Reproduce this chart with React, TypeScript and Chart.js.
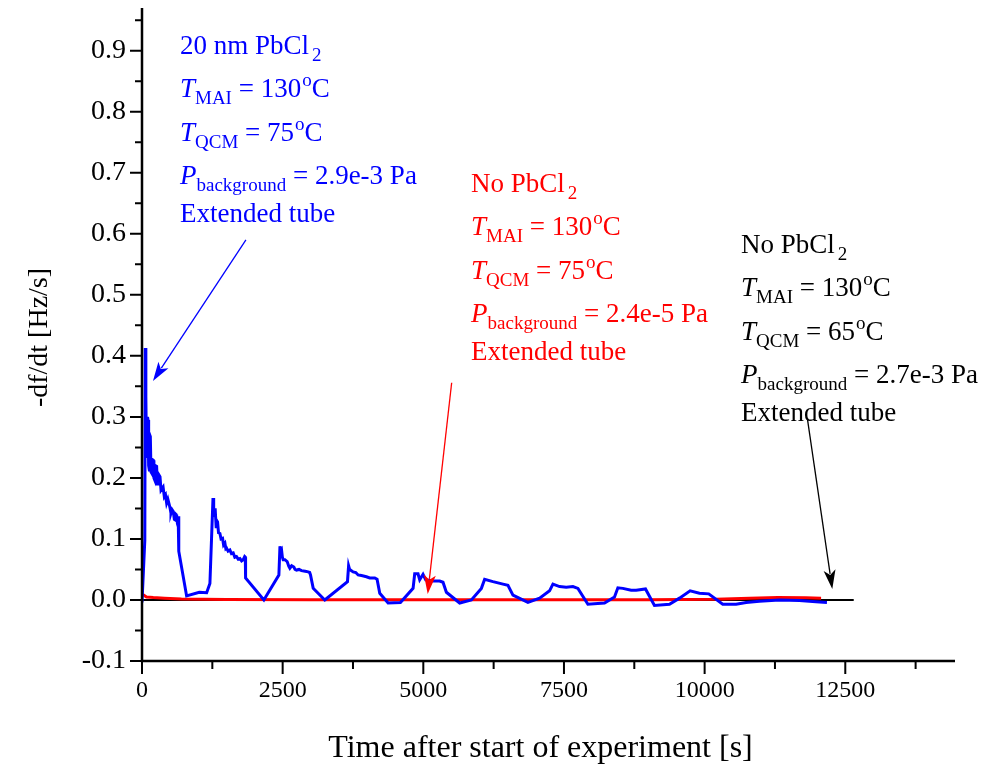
import React, { useEffect, useRef } from 'react';
import { Chart, registerables } from 'chart.js';

Chart.register(...registerables);

// ---------- data ----------
const BLUE_T = [
  0, 50, 58, 66, 71, 80, 89, 98, 107, 118, 130, 140, 148, 160, 172, 186, 201, 212, 225, 242,
  260, 272, 284, 300, 320, 338, 355, 375, 397, 418, 438, 460, 485, 500, 515, 535, 556, 575, 592, 605,
  616, 630, 646, 651, 656, 793, 1018, 1149, 1207, 1262, 1274, 1290, 1300, 1308, 1318, 1330, 1343, 1360, 1385, 1405,
  1432, 1450, 1474, 1490, 1503, 1530, 1562, 1590, 1621, 1650, 1680, 1710, 1740, 1770, 1799, 1825, 1836, 1841, 2166, 2433,
  2452, 2466, 2480, 2495, 2509, 2540, 2580, 2610, 2628, 2660, 2699, 2720, 2746, 2790, 2835, 2900, 2953, 2980, 2995, 3043,
  3249, 3652, 3672, 3690, 3705, 3752, 3800, 3841, 3900, 3989, 4048, 4107, 4137, 4178, 4226, 4374, 4593, 4818, 4847, 4906,
  4936, 4995, 5043, 5173, 5291, 5350, 5410, 5646, 5854, 6032, 6090, 6238, 6416, 6504, 6593, 6859, 7067, 7244, 7304, 7422,
  7540, 7659, 7748, 7925, 8221, 8398, 8458, 8546, 8694, 8783, 8949, 9108, 9375, 9553, 9742, 9908, 10073, 10322, 10559, 10737,
  10973, 11328, 11683, 11979, 12174,
];
const BLUE_V = [
  -0.004, 0.098, 0.413, 0.3, 0.333, 0.24, 0.235, 0.3, 0.295, 0.22, 0.213, 0.27, 0.268, 0.21, 0.208, 0.23, 0.229, 0.2, 0.197, 0.22,
  0.219, 0.19, 0.191, 0.205, 0.202, 0.18, 0.18, 0.185, 0.169, 0.172, 0.159, 0.165, 0.156, 0.15, 0.142, 0.148, 0.145, 0.132, 0.131, 0.14,
  0.139, 0.125, 0.12, 0.137, 0.08, 0.0066, 0.0126, 0.012, 0.027, 0.167, 0.14, 0.142, 0.15, 0.15, 0.12, 0.13, 0.128, 0.11, 0.109, 0.1,
  0.101, 0.09, 0.093, 0.084, 0.085, 0.08, 0.082, 0.076, 0.077, 0.07, 0.071, 0.067, 0.068, 0.064, 0.066, 0.071, 0.07, 0.036, 0.0, 0.041,
  0.088, 0.08, 0.082, 0.07, 0.066, 0.066, 0.063, 0.055, 0.052, 0.056, 0.054, 0.05, 0.049, 0.05, 0.048, 0.047, 0.046, 0.045, 0.041, 0.019,
  0.0, 0.03, 0.056, 0.05, 0.049, 0.046, 0.045, 0.041, 0.04, 0.038, 0.036, 0.036, 0.036, 0.034, 0.011, -0.005, -0.004, 0.019, 0.043, 0.043,
  0.033, 0.042, 0.033, 0.031, 0.031, 0.029, 0.0126, -0.005, 0.0, 0.019, 0.034, 0.03, 0.026, 0.024, 0.008, -0.004, 0.003, 0.015, 0.026, 0.022,
  0.021, 0.022, 0.019, -0.007, -0.005, 0.005, 0.02, 0.019, 0.016, 0.016, 0.018, -0.009, -0.007, 0.003, 0.015, 0.011, 0.01, -0.007, -0.007, -0.004,
  -0.002, 0.0, -0.001, -0.003, -0.004,
];

const RED_T = [0, 30, 80, 200, 400, 700, 1500, 3000, 6000, 9000, 10200, 10800, 11300, 11800, 12070];
const RED_V = [0.009, 0.008, 0.005, 0.004, 0.003, 0.0015, 0.0008, 0.0005, 0.0003, 0.0003, 0.001, 0.003, 0.004, 0.0035, 0.003];

const BLACK_T = [0, 6000, 12650];
const BLACK_V = [0, 0, 0];

const X_MAJOR = [0, 2500, 5000, 7500, 10000, 12500];
const X_MINOR = [1250, 3750, 6250, 8750, 11250, 13750];
const Y_MAJOR = [-0.1, 0, 0.1, 0.2, 0.3, 0.4, 0.5, 0.6, 0.7, 0.8, 0.9];
const Y_MINOR = [-0.05, 0.05, 0.15, 0.25, 0.35, 0.45, 0.55, 0.65, 0.75, 0.85, 0.95];
const X_MIN = 0;
const X_MAX = 14450;
const Y_MIN = -0.1;
const Y_MAX = 0.97;

const X_TITLE = 'Time after start of experiment [s]';
const Y_TITLE = '-df/dt [Hz/s]';

type Seg = { t: string; s?: 'i' | 'sub' | 'sup' };

const BLUE_TEXT: Seg[][] = [
  [{ t: '20 nm PbCl' }, { t: '2', s: 'sub' }],
  [{ t: 'T', s: 'i' }, { t: 'MAI', s: 'sub' }, { t: ' = 130' }, { t: 'o', s: 'sup' }, { t: 'C' }],
  [{ t: 'T', s: 'i' }, { t: 'QCM', s: 'sub' }, { t: ' = 75' }, { t: 'o', s: 'sup' }, { t: 'C' }],
  [{ t: 'P', s: 'i' }, { t: 'background', s: 'sub' }, { t: ' = 2.9e-3 Pa' }],
  [{ t: 'Extended tube' }],
];
const RED_TEXT: Seg[][] = [
  [{ t: 'No PbCl' }, { t: '2', s: 'sub' }],
  [{ t: 'T', s: 'i' }, { t: 'MAI', s: 'sub' }, { t: ' = 130' }, { t: 'o', s: 'sup' }, { t: 'C' }],
  [{ t: 'T', s: 'i' }, { t: 'QCM', s: 'sub' }, { t: ' = 75' }, { t: 'o', s: 'sup' }, { t: 'C' }],
  [{ t: 'P', s: 'i' }, { t: 'background', s: 'sub' }, { t: ' = 2.4e-5 Pa' }],
  [{ t: 'Extended tube' }],
];
const BLACK_TEXT: Seg[][] = [
  [{ t: 'No PbCl' }, { t: '2', s: 'sub' }],
  [{ t: 'T', s: 'i' }, { t: 'MAI', s: 'sub' }, { t: ' = 130' }, { t: 'o', s: 'sup' }, { t: 'C' }],
  [{ t: 'T', s: 'i' }, { t: 'QCM', s: 'sub' }, { t: ' = 65' }, { t: 'o', s: 'sup' }, { t: 'C' }],
  [{ t: 'P', s: 'i' }, { t: 'background', s: 'sub' }, { t: ' = 2.7e-3 Pa' }],
  [{ t: 'Extended tube' }],
];

// annotation anchors in data coordinates
const BLUE_ANCHOR = [675, 0.8947];
const RED_ANCHOR = [5848, 0.6685];
const BLACK_ANCHOR = [10647, 0.5686];
const BLUE_ARROW = [1847, 0.59, 195, 0.359];
const RED_ARROW = [5504, 0.356, 5078, 0.0098];
const BLACK_ARROW = [11825, 0.298, 12269, 0.018];

const BLUE = '#0000ff';
const RED = '#ff0000';
const BLACK = '#000000';
const FONT = '"Liberation Serif", "Times New Roman", serif';
const LINE_OFFSETS = [0, 43, 87, 130, 168];

function drawRich(ctx: CanvasRenderingContext2D, segs: Seg[], x: number, y: number) {
  let cx = x;
  for (const seg of segs) {
    let size = 27;
    let dy = 0;
    let style = '';
    if (seg.s === 'sub') {
      size = 19;
      dy = 7;
      if (seg.t === '2') cx += 3;
    }
    if (seg.s === 'sup') {
      size = 19;
      dy = -11;
      cx += 1;
    }
    if (seg.s === 'i') style = 'italic ';
    ctx.font = `${style}${size}px ${FONT}`;
    ctx.fillText(seg.t, cx, y + dy);
    cx += ctx.measureText(seg.t).width;
  }
}

function drawArrow(ctx: CanvasRenderingContext2D, x1: number, y1: number, x2: number, y2: number, color: string) {
  const ang = Math.atan2(y2 - y1, x2 - x1);
  const hl = 19;
  const hw = 6;
  ctx.strokeStyle = color;
  ctx.fillStyle = color;
  ctx.lineWidth = 1.3;
  ctx.beginPath();
  ctx.moveTo(x1, y1);
  ctx.lineTo(x2 - Math.cos(ang) * hl * 0.8, y2 - Math.sin(ang) * hl * 0.8);
  ctx.stroke();
  ctx.beginPath();
  ctx.moveTo(x2, y2);
  ctx.lineTo(x2 - Math.cos(ang) * hl + Math.sin(ang) * hw, y2 - Math.sin(ang) * hl - Math.cos(ang) * hw);
  ctx.lineTo(x2 - Math.cos(ang) * hl * 0.75, y2 - Math.sin(ang) * hl * 0.75);
  ctx.lineTo(x2 - Math.cos(ang) * hl - Math.sin(ang) * hw, y2 - Math.sin(ang) * hl + Math.cos(ang) * hw);
  ctx.closePath();
  ctx.fill();
}

const decoPlugin = {
  id: 'deco',
  afterDraw(chart: any) {
    const ctx: CanvasRenderingContext2D = chart.ctx;
    const xs = chart.scales.x;
    const ys = chart.scales.y;
    const a = chart.chartArea;
    ctx.save();
    // axes
    ctx.strokeStyle = '#000';
    ctx.lineWidth = 2.5;
    ctx.beginPath();
    ctx.moveTo(a.left, a.top);
    ctx.lineTo(a.left, a.bottom);
    ctx.lineTo(a.right, a.bottom);
    ctx.stroke();
    // ticks
    ctx.lineWidth = 2;
    ctx.beginPath();
    for (const v of X_MAJOR) {
      const p = xs.getPixelForValue(v);
      ctx.moveTo(p, a.bottom);
      ctx.lineTo(p, a.bottom + 13);
    }
    for (const v of X_MINOR) {
      const p = xs.getPixelForValue(v);
      ctx.moveTo(p, a.bottom);
      ctx.lineTo(p, a.bottom + 8);
    }
    for (const v of Y_MAJOR) {
      const p = ys.getPixelForValue(v);
      ctx.moveTo(a.left, p);
      ctx.lineTo(a.left - 12, p);
    }
    for (const v of Y_MINOR) {
      const p = ys.getPixelForValue(v);
      ctx.moveTo(a.left, p);
      ctx.lineTo(a.left - 7, p);
    }
    ctx.stroke();

    // axis titles
    ctx.fillStyle = '#000';
    ctx.textAlign = 'center';
    ctx.textBaseline = 'alphabetic';
    ctx.font = `32px ${FONT}`;
    ctx.fillText(X_TITLE, (a.left + a.right) / 2 - 8, 757);
    ctx.save();
    ctx.translate(40, (a.top + a.bottom) / 2 + 3);
    ctx.rotate(-Math.PI / 2);
    ctx.textBaseline = 'middle';
    ctx.font = `28px ${FONT}`;
    ctx.fillText(Y_TITLE, 0, 0);
    ctx.restore();

    // annotations
    ctx.textAlign = 'left';
    ctx.textBaseline = 'alphabetic';
    const blocks: [Seg[][], number[], string][] = [
      [BLUE_TEXT, BLUE_ANCHOR, BLUE],
      [RED_TEXT, RED_ANCHOR, RED],
      [BLACK_TEXT, BLACK_ANCHOR, BLACK],
    ];
    for (const [lines, anc, col] of blocks) {
      const x0 = xs.getPixelForValue(anc[0]);
      const y0 = ys.getPixelForValue(anc[1]);
      ctx.fillStyle = col;
      lines.forEach((segs, i) => drawRich(ctx, segs, x0, y0 + LINE_OFFSETS[i]));
    }
    const arrows: [number[], string][] = [
      [BLUE_ARROW, BLUE],
      [RED_ARROW, RED],
      [BLACK_ARROW, BLACK],
    ];
    for (const [ar, col] of arrows) {
      drawArrow(
        ctx,
        xs.getPixelForValue(ar[0]),
        ys.getPixelForValue(ar[1]),
        xs.getPixelForValue(ar[2]),
        ys.getPixelForValue(ar[3]),
        col
      );
    }
    ctx.restore();
  },
};

function toXY(t: number[], v: number[]) {
  return t.map((x, i) => ({ x, y: v[i] }));
}

export default function App() {
  const ref = useRef<HTMLCanvasElement>(null);
  useEffect(() => {
    if (!ref.current) return;
    Chart.defaults.font.family = FONT;
    const chart = new Chart(ref.current, {
      type: 'line',
      data: {
        datasets: [
          {
            label: '20 nm PbCl2',
            data: toXY(BLUE_T, BLUE_V),
            borderColor: BLUE,
            borderWidth: 3,
            pointRadius: 0,
            tension: 0,
          },
          {
            label: 'No PbCl2 (75)',
            data: toXY(RED_T, RED_V),
            borderColor: RED,
            borderWidth: 3,
            pointRadius: 0,
            tension: 0,
          },
          {
            label: 'No PbCl2 (65)',
            data: toXY(BLACK_T, BLACK_V),
            borderColor: BLACK,
            borderWidth: 2,
            pointRadius: 0,
            tension: 0,
          },
        ],
      },
      options: {
        animation: false,
        responsive: false,
        events: [],
        layout: { padding: { left: 0, top: 8, right: 27, bottom: 0 } },
        plugins: { legend: { display: false }, tooltip: { enabled: false } },
        scales: {
          x: {
            type: 'linear',
            min: X_MIN,
            max: X_MAX,
            border: { display: false },
            grid: { display: false, drawTicks: false },
            afterBuildTicks: (s: any) => {
              s.ticks = X_MAJOR.map((value) => ({ value }));
            },
            afterFit: (s: any) => {
              s.height = 104;
              s.paddingLeft = 0;
              s.paddingRight = 0;
              s.paddingTop = 0;
              s.paddingBottom = 0;
            },
            ticks: {
              autoSkip: false,
              maxRotation: 0,
              padding: 15,
              color: '#000',
              font: { size: 24, family: FONT },
              callback: (v: any) => String(v),
            },
          },
          y: {
            type: 'linear',
            min: Y_MIN,
            max: Y_MAX,
            border: { display: false },
            grid: { display: false, drawTicks: false },
            afterBuildTicks: (s: any) => {
              s.ticks = Y_MAJOR.map((value) => ({ value }));
            },
            afterFit: (s: any) => {
              s.width = 142;
              s.paddingLeft = 0;
              s.paddingRight = 0;
              s.paddingTop = 0;
              s.paddingBottom = 0;
            },
            ticks: {
              autoSkip: false,
              padding: 16,
              color: '#000',
              font: { size: 28, family: FONT },
              callback: (v: any) => Number(v).toFixed(1),
            },
          },
        },
      },
      plugins: [decoPlugin],
    });
    return () => chart.destroy();
  }, []);
  return (
    <div style={{ position: 'absolute', left: 0, top: 0, width: 982, height: 765, background: '#fff' }}>
      <canvas ref={ref} width={982} height={765} style={{ display: 'block' }} />
    </div>
  );
}
